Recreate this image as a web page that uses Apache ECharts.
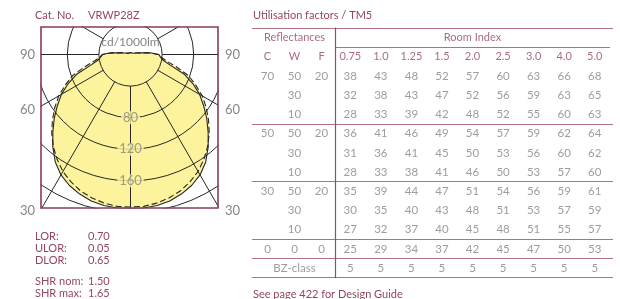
<!DOCTYPE html>
<html>
<head>
<meta charset="utf-8">
<script src="https://cdn.jsdelivr.net/npm/echarts@6/dist/echarts.min.js"></script>
<style>
html, body { margin: 0; padding: 0; background: #fff; }
#wrap { position: relative; width: 620px; height: 299px; }
#polar, #sheet { position: absolute; left: 0; top: 0; width: 620px; height: 299px; }
</style>
</head>
<body>
<div id="wrap">
	<div id="polar"></div>
	<div id="sheet"></div>
</div>
<script>
// light distribution, cd/1000lm against angle from nadir (half curve, luminaire is symmetric)
var curveAngles = [0, 5, 10, 15, 20, 25, 30, 35, 40, 45, 50, 55, 60, 65, 70, 75, 80, 85, 90, 95, 100, 105, 110, 120, 135, 150, 165, 180];
var cdSolid = [195, 195, 194, 192, 188, 183, 176, 166, 153, 139, 126, 113, 101, 87, 72, 52, 42, 38, 36, 25, 12, 7, 5, 3, 2.5, 2.5, 2.5, 2.5];
var cdDashed = [193, 193, 191, 188, 184, 178, 171, 162, 152, 141, 129, 117, 105, 91, 78, 60, 46, 39, 35, 24, 12, 7, 5, 3, 2.5, 2.5, 2.5, 2.5];
var ringTicks = [40, 80, 120, 160, 200];
var spokeAngles = [0, 30, 60, 90, 120, 150, 180, 210, 240, 270, 300, 330];
var ringLabels = [80, 120, 160];

var catNo = 'VRWP28Z';
var lorNames = ['LOR:', 'ULOR:', 'DLOR:'];
var lorValues = ['0.70', '0.05', '0.65'];
var shrNames = ['SHR nom:', 'SHR max:'];
var shrValues = ['1.50', '1.65'];
var sideAngles = ['90', '60', '30'];

var roomIndex = ['0.75', '1.0', '1.25', '1.5', '2.0', '2.5', '3.0', '4.0', '5.0'];
var reflHead = ['C', 'W', 'F'];
var reflC = ['70', '', '', '50', '', '', '30', '', '', '0'];
var reflW = ['50', '30', '10', '50', '30', '10', '50', '30', '10', '0'];
var reflF = ['20', '', '', '20', '', '', '20', '', '', '0'];
var uf = [
	[38, 43, 48, 52, 57, 60, 63, 66, 68],
	[32, 38, 43, 47, 52, 56, 59, 63, 65],
	[28, 33, 39, 42, 48, 52, 55, 60, 63],
	[36, 41, 46, 49, 54, 57, 59, 62, 64],
	[31, 36, 41, 45, 50, 53, 56, 60, 62],
	[28, 33, 38, 41, 46, 50, 53, 57, 60],
	[35, 39, 44, 47, 51, 54, 56, 59, 61],
	[30, 35, 40, 43, 48, 51, 53, 57, 59],
	[27, 32, 37, 40, 45, 48, 51, 55, 57],
	[25, 29, 34, 37, 42, 45, 47, 50, 53]
];
var bzClass = [5, 5, 5, 5, 5, 5, 5, 5, 5];

var MAROON = '#94475a';
var RULE = '#b07180';
var GREY = '#858585';
var YELLOW = '#fdf39c';
var INK = '#262626';
var FONT = 'Lato, "Open Sans", sans-serif';
var R_MAX = 240;

// ---------- polar diagram ----------

// both halves of the polar curve: right side 0..180, left side mirrored
function fullCurve(vals) {
	var pts = [];
	var i;
	for (i = 0; i < curveAngles.length; i++) {
		pts.push([vals[i], curveAngles[i]]);
	}
	for (i = curveAngles.length - 2; i >= 0; i--) {
		pts.push([vals[i], 360 - curveAngles[i]]);
	}
	return pts;
}

function mask(x, y, w, h) {
	return { type: 'rect', z: 10, silent: true, shape: { x: x, y: y, width: w, height: h }, style: { fill: '#fff' } };
}

var polarChart = echarts.init(document.getElementById('polar'));
polarChart.setOption({
	animation: false,
	polar: { center: [130.5, 54.5], radius: [0, 189.6] },
	angleAxis: {
		type: 'value', min: 0, max: 360, startAngle: 270,
		axisLine: { show: false }, axisTick: { show: false }, axisLabel: { show: false }, splitLine: { show: false }
	},
	radiusAxis: {
		type: 'value', min: 0, max: R_MAX,
		axisLine: { show: false }, axisTick: { show: false }, axisLabel: { show: false }, splitLine: { show: false }
	},
	graphic: { elements: [
		// white masks: the diagram only shows inside the frame
		mask(0, 0, 40.5, 299),
		mask(218.5, 0, 402, 299),
		mask(40, 0, 180, 26.5),
		mask(40, 208.5, 180, 91),
		{ type: 'rect', z: 30, silent: true, shape: { x: 41, y: 27, width: 177, height: 181 }, style: { fill: 'none', stroke: '#8b3e50', lineWidth: 1.6 } }
	] },
	series: [
		{
			type: 'line', coordinateSystem: 'polar', symbol: 'none', silent: true, z: 1,
			data: fullCurve(cdSolid), lineStyle: { width: 0 }, areaStyle: { color: YELLOW, opacity: 1 }
		},
		{
			type: 'line', coordinateSystem: 'polar', symbol: 'none', silent: true, z: 1,
			data: fullCurve(cdDashed), lineStyle: { width: 0 }, areaStyle: { color: YELLOW, opacity: 1 }
		},
		{
			// intensity rings
			type: 'custom', coordinateSystem: 'polar', silent: true, z: 3, clip: false,
			data: ringTicks.map(function(v) { return [v, 0]; }),
			renderItem: function(params, api) {
				var c = api.coord([0, 0]);
				var p = api.coord([api.value(0), 0]);
				var rr = Math.sqrt((p[0] - c[0]) * (p[0] - c[0]) + (p[1] - c[1]) * (p[1] - c[1]));
				return {
					type: 'circle',
					shape: { cx: c[0], cy: c[1], r: rr },
					style: { fill: 'none', stroke: INK, lineWidth: 1 }
				};
			}
		},
		{
			// angle spokes, from the first ring outwards
			type: 'custom', coordinateSystem: 'polar', silent: true, z: 3, clip: false,
			data: spokeAngles.map(function(a) { return [R_MAX, a]; }),
			renderItem: function(params, api) {
				var a = api.value(1);
				var p0 = api.coord([ringTicks[0], a]);
				var p1 = api.coord([api.value(0), a]);
				return {
					type: 'line',
					shape: { x1: p0[0], y1: p0[1], x2: p1[0], y2: p1[1] },
					style: { stroke: INK, lineWidth: 1 }
				};
			}
		},
		{
			type: 'line', coordinateSystem: 'polar', symbol: 'none', silent: true, z: 4,
			data: fullCurve(cdSolid), lineStyle: { color: INK, width: 1.1 }
		},
		{
			type: 'line', coordinateSystem: 'polar', symbol: 'none', silent: true, z: 4,
			data: fullCurve(cdDashed), lineStyle: { color: INK, width: 1.1, type: [6, 3] }
		},
		{
			type: 'scatter', coordinateSystem: 'polar', symbolSize: 1, z: 6, silent: true,
			itemStyle: { color: 'transparent' },
			data: ringLabels.map(function(v) { return [v, 0]; }),
			label: {
				show: true, position: 'inside', color: GREY, fontSize: 13, fontFamily: FONT,
				backgroundColor: YELLOW, padding: [0, 2],
				formatter: function(p) { return p.value[0]; }
			}
		}
	]
});

// ---------- texts and utilisation table ----------

var rows = [];
for (var r = 0; r < 13; r++) rows.push(r);

var headData = [[4, 0, 'Room Index']];
roomIndex.forEach(function(v, i) { headData.push([i, 1, v]); });
var reflHeadData = [[1, 0, 'Reflectances']];
reflHead.forEach(function(v, i) { reflHeadData.push([i, 1, v]); });

var reflData = [];
for (var k = 0; k < reflW.length; k++) {
	if (reflC[k]) reflData.push([0, k + 2, reflC[k]]);
	if (reflW[k]) reflData.push([1, k + 2, reflW[k]]);
	if (reflF[k]) reflData.push([2, k + 2, reflF[k]]);
}
reflData.push([1, 12, 'BZ-class']);

var ufData = [];
uf.forEach(function(row, k) {
	row.forEach(function(v, i) { ufData.push([i, k + 2, String(v)]); });
});
bzClass.forEach(function(v, i) { ufData.push([i, 12, String(v)]); });

function textSeries(name, xi, data, color, size) {
	return {
		name: name,
		type: 'scatter',
		xAxisIndex: xi,
		yAxisIndex: xi,
		symbolSize: 1,
		itemStyle: { color: 'transparent' },
		z: 20,
		silent: true,
		data: data,
		label: {
			show: true,
			position: 'inside',
			color: color,
			fontSize: size,
			fontFamily: FONT,
			formatter: function(p) { return p.value[2]; }
		}
	};
}

function tableY(idx, lines) {
	return {
		type: 'category', gridIndex: idx, data: rows, inverse: true,
		axisLabel: { show: false }, axisTick: { show: false },
		axisLine: { show: idx === 1, lineStyle: { color: '#9a4a5c', width: 1.2 } },
		splitLine: {
			show: lines.length > 0,
			interval: function(i) { return lines.indexOf(i) >= 0; },
			lineStyle: { color: RULE, width: 1 }
		}
	};
}

function tableX(idx, cats) {
	return {
		type: 'category', gridIndex: idx, data: cats,
		axisLabel: { show: false }, axisTick: { show: false }, axisLine: { show: false },
		splitLine: { show: false }
	};
}

function txt(x, y, s, opts) {
	opts = opts || {};
	return {
		type: 'text', x: x, y: y, z: 30, silent: true,
		style: {
			text: s,
			fill: opts.color || MAROON,
			font: (opts.size || 11) + 'px ' + FONT,
			textAlign: opts.align || 'left',
			textVerticalAlign: 'middle',
			verticalAlign: 'middle'
		}
	};
}

var texts = [
	txt(35, 15, 'Cat. No.'),
	txt(88, 15, catNo),
	txt(130.5, 42, 'cd/1000lm', { color: GREY, size: 12, align: 'center' }),
	txt(253, 15, 'Utilisation factors / TM5'),
	txt(253, 294, 'See page 422 for Design Guide')
];
var sideY = [55, 110, 211];
sideAngles.forEach(function(a, i) {
	texts.push(txt(35, sideY[i], a, { color: GREY, size: 13, align: 'right' }));
	texts.push(txt(225, sideY[i], a, { color: GREY, size: 13 }));
});
lorNames.forEach(function(n, i) {
	texts.push(txt(35, 236 + i * 12, n));
	texts.push(txt(88, 236 + i * 12, lorValues[i]));
});
shrNames.forEach(function(n, i) {
	texts.push(txt(35, 281 + i * 12, n));
	texts.push(txt(88, 281 + i * 12, shrValues[i]));
});

var sheetChart = echarts.init(document.getElementById('sheet'));
sheetChart.setOption({
	animation: false,
	grid: [
		{ left: 254, top: 28, width: 81, height: 249.6 },
		{ left: 335, top: 28, width: 275, height: 249.6 },
		{ left: 252, top: 28, width: 361, height: 249.6 }
	],
	xAxis: [tableX(0, reflHead), tableX(1, roomIndex), tableX(2, ['all'])],
	yAxis: [tableY(0, []), tableY(1, [0, 1]), tableY(2, [0, 5, 8, 11, 12])],
	graphic: { elements: texts },
	series: [
		textSeries('reflHead', 0, reflHeadData, MAROON, 11),
		textSeries('roomHead', 1, headData, MAROON, 11),
		textSeries('refl', 0, reflData, GREY, 11.5),
		textSeries('uf', 1, ufData, GREY, 11.5)
	]
});
</script>
</body>
</html>
